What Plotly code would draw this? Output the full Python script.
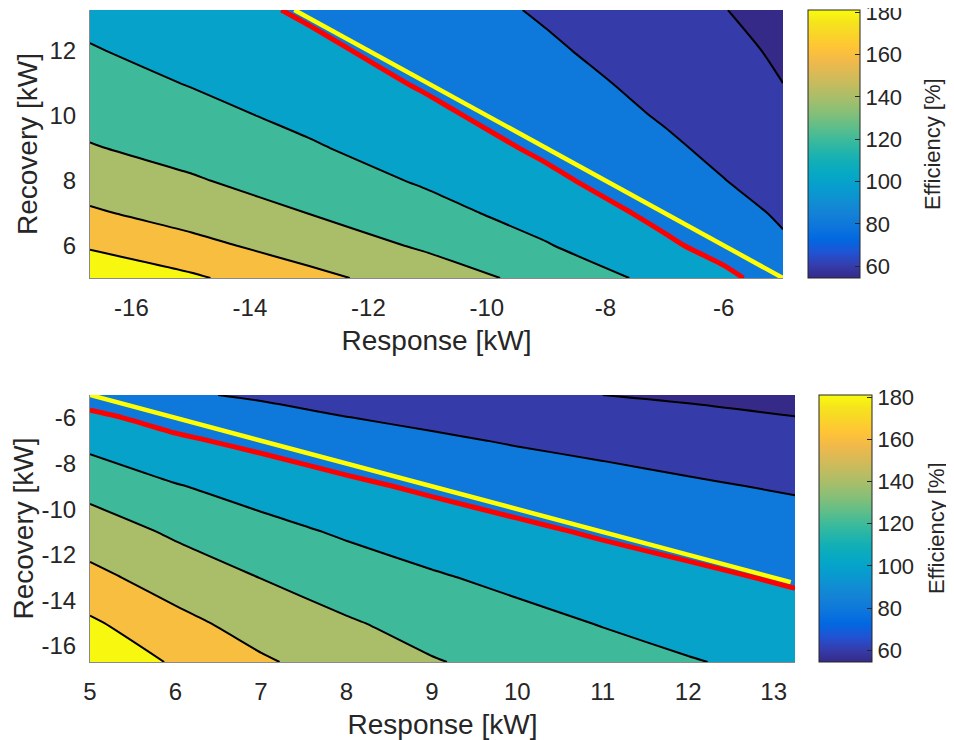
import numpy as np
import plotly.graph_objects as go

# ---------------- data ----------------
# Top panel: response (negative) vs recovery (positive)
top_response = [-16.7, -15, -13, -11, -9, -7, -6, -5]
top_recovery = [5, 6, 7, 8, 9, 10, 11, 12, 13.25]
top_efficiency = [
    [196.4, 183.0, 165.0, 150.4, 133.4, 114.3, 103.6, 92.7],
    [177.5, 165.3, 151.5, 137.1, 121.2, 102.8, 94.3, 82.5],
    [162.4, 152.4, 139.7, 126.5, 111.8, 95.5, 86.9, 77.5],
    [151.4, 141.9, 130.4, 117.5, 103.6, 88.9, 80.4, 72.4],
    [141.2, 133.4, 122.1, 110.2, 97.0, 83.1, 75.7, 67.9],
    [134.4, 125.9, 115.2, 103.6, 91.7, 78.3, 71.6, 63.7],
    [127.5, 119.1, 109.2, 98.0, 86.9, 74.5, 67.9, 60.0],
    [121.2, 113.5, 103.6, 93.6, 82.5, 71.1, 64.4, 57.5],
    [114.6, 107.2, 97.8, 88.5, 77.9, 67.1, 60.4, 54.7],
]
top_yellow_response = [-13.25, -5]
top_yellow_recovery = [13.25, 5]

# Bottom panel: response (positive) vs recovery (negative)
bot_response = [5, 6, 7, 8, 9, 10, 11, 12, 13.25]
bot_recovery = [-16.7, -15, -13, -11, -9, -7, -6, -5]
bot_efficiency = [
    [196.4, 177.5, 162.4, 151.4, 141.2, 134.4, 127.5, 121.2, 114.6],
    [183.0, 165.3, 152.4, 141.9, 133.4, 125.9, 119.1, 113.5, 107.2],
    [165.0, 151.5, 139.7, 130.4, 122.1, 115.2, 109.2, 103.6, 97.8],
    [150.4, 137.1, 126.5, 117.5, 110.2, 103.6, 98.0, 93.6, 88.5],
    [133.4, 121.2, 111.8, 103.6, 97.0, 91.7, 86.9, 82.5, 77.9],
    [114.3, 102.8, 95.5, 88.9, 83.1, 78.3, 74.5, 71.1, 67.1],
    [103.6, 94.3, 86.9, 80.4, 75.7, 71.6, 67.9, 64.4, 60.4],
    [92.7, 82.5, 77.5, 72.4, 67.9, 63.7, 60.0, 57.5, 54.7],
]
bot_yellow_response = [5, 13.2]
bot_yellow_recovery = [-5, -13.2]

contour_levels = [60, 80, 100, 120, 140, 160, 180]
highlight_level = 100
cbar_min, cbar_max = 54.5, 181
cbar_ticks = [60, 80, 100, 120, 140, 160, 180]

top_xticks = [-16, -14, -12, -10, -8, -6]
top_yticks = [6, 8, 10, 12]
bot_xticks = [5, 6, 7, 8, 9, 10, 11, 12, 13]
bot_yticks = [-16, -14, -12, -10, -8, -6]

# ---------------- styling ----------------
OFF = 8                # page body margin in the browser
W, H = 954 - OFF, 740 - OFF
FONT = "Liberation Sans, Arial, Helvetica, sans-serif"
TXT = "#262626"


def fx(p):
    return (p - OFF) / W


def fy(p):
    return 1 - (p - OFF) / H


# MATLAB parula (R2014b) sampled rows
parula_idx = [0, 3, 6, 9, 12, 15, 18, 21, 24, 27, 30, 33, 36, 39, 42, 45, 48, 51, 54, 57, 60, 63]
parula_rgb = [
    (0.2081, 0.1663, 0.5292), (0.2081, 0.2386, 0.6771), (0.1253, 0.3242, 0.8303),
    (0.0060, 0.4086, 0.8828), (0.0498, 0.4586, 0.8641), (0.0779, 0.5040, 0.8384),
    (0.0641, 0.5570, 0.8240), (0.0265, 0.6137, 0.8135), (0.0228, 0.6535, 0.7768),
    (0.0590, 0.6838, 0.7254), (0.1453, 0.7098, 0.6646), (0.2586, 0.7317, 0.5954),
    (0.3953, 0.7459, 0.5244), (0.5300, 0.7491, 0.4661), (0.6473, 0.7456, 0.4188),
    (0.7525, 0.7384, 0.3768), (0.8507, 0.7299, 0.3360), (0.9450, 0.7261, 0.2886),
    (0.9990, 0.7653, 0.2164), (0.9789, 0.8271, 0.1633), (0.9589, 0.8949, 0.1132),
    (0.9763, 0.9831, 0.0538),
]
ppos = np.array(parula_idx) / 63.0
prgb = np.array(parula_rgb)


def rgb_str(c):
    return "rgb(%d,%d,%d)" % tuple(int(round(v * 255)) for v in c)


parula_scale = [[float(p), rgb_str(c)] for p, c in zip(ppos, prgb)]


def parula_at(t):
    t = min(max(t, 0.0), 1.0)
    return [np.interp(t, ppos, prgb[:, k]) for k in range(3)]


# band colours as MATLAB contourf does: band above level L gets colour of L
band_vals = [cbar_min] + contour_levels
nb = len(band_vals)
fill_scale = [[i / (nb - 1), rgb_str(parula_at((v - cbar_min) / (cbar_max - cbar_min)))]
              for i, v in enumerate(band_vals)]

lvl_step = contour_levels[1] - contour_levels[0]

fig = go.Figure()


def add_panel(xs, ys, zs, yx, yy, xa, ya, cb):
    # heatmap underneath provides the continuous colorbar
    fig.add_trace(go.Heatmap(
        x=xs, y=ys, z=zs, xaxis=xa, yaxis=ya,
        colorscale=parula_scale, zmin=cbar_min, zmax=cbar_max,
        showscale=True, colorbar=cb, hoverinfo="skip"))
    fig.add_trace(go.Contour(
        x=xs, y=ys, z=zs, xaxis=xa, yaxis=ya,
        autocontour=False,
        contours=dict(start=contour_levels[0], end=contour_levels[-1], size=lvl_step,
                      coloring="fill", showlines=True),
        colorscale=fill_scale, showscale=False,
        line=dict(color="black", width=2, smoothing=0.6)))
    fig.add_trace(go.Contour(
        x=xs, y=ys, z=zs, xaxis=xa, yaxis=ya,
        autocontour=False,
        contours=dict(start=highlight_level, end=highlight_level, size=1, coloring="none"),
        showscale=False,
        line=dict(color="#ff0000", width=5, smoothing=0.6)))
    fig.add_trace(go.Scatter(
        x=yx, y=yy, xaxis=xa, yaxis=ya, mode="lines",
        line=dict(color="#ffff00", width=4.5), showlegend=False, hoverinfo="skip"))


def cbar(x_px, top_px, bot_px, thick):
    return dict(
        x=fx(x_px), xanchor="left", xpad=0,
        y=fy((top_px + bot_px) / 2), yanchor="middle", ypad=0,
        len=bot_px - top_px, lenmode="pixels",
        thickness=thick, thicknessmode="pixels",
        outlinewidth=1, outlinecolor=TXT,
        tickmode="array", tickvals=cbar_ticks, ticktext=[str(v) for v in cbar_ticks],
        ticks="inside", ticklen=5, tickcolor=TXT,
        ticklabeloverflow="allow",
        tickfont=dict(family=FONT, size=22, color=TXT),
    )


add_panel(top_response, top_recovery, top_efficiency,
          top_yellow_response, top_yellow_recovery, "x", "y", cbar(808, 10, 278, 52))
add_panel(bot_response, bot_recovery, bot_efficiency,
          bot_yellow_response, bot_yellow_recovery, "x2", "y2", cbar(819, 395, 662, 53))


def ax(domain, rng, ticks, title, anchor, standoff, lab_standoff):
    return dict(
        domain=domain, range=rng, anchor=anchor,
        tickmode="array", tickvals=ticks, ticktext=[str(v) for v in ticks],
        ticks="", showgrid=False, zeroline=False,
        showline=True, linecolor="#8a8a8a", linewidth=1, mirror=False,
        ticklabelstandoff=lab_standoff,
        tickfont=dict(family=FONT, size=24, color=TXT),
        title=dict(text=title, font=dict(family=FONT, size=28, color=TXT), standoff=standoff),
        automargin=False,
    )


fig.update_layout(
    width=W, height=H,
    margin=dict(l=0, r=0, t=0, b=0),
    paper_bgcolor="white", plot_bgcolor="white",
    showlegend=False,
    xaxis=ax([fx(90), fx(783)], [top_response[0], top_response[-1]], top_xticks,
             "Response [kW]", "y", 10, 8),
    yaxis=ax([fy(278), fy(10)], [top_recovery[0], top_recovery[-1]], top_yticks,
             "Recovery [kW]", "x", 3, 8),
    xaxis2=ax([fx(90), fx(795)], [bot_response[0], bot_response[-1]], bot_xticks,
              "Response [kW]", "y2", 10, 8),
    yaxis2=ax([fy(662), fy(395)], [bot_recovery[0], bot_recovery[-1]], bot_yticks,
              "Recovery [kW]", "x2", 9, 8),
    annotations=[
        dict(text="Efficiency [%]", x=fx(932), y=fy(144), xref="paper", yref="paper",
             textangle=-90, showarrow=False, xanchor="center", yanchor="middle",
             font=dict(family=FONT, size=22, color=TXT)),
        dict(text="Efficiency [%]", x=fx(936), y=fy(528), xref="paper", yref="paper",
             textangle=-90, showarrow=False, xanchor="center", yanchor="middle",
             font=dict(family=FONT, size=22, color=TXT)),
    ],
)

fig.write_html("out.html")
